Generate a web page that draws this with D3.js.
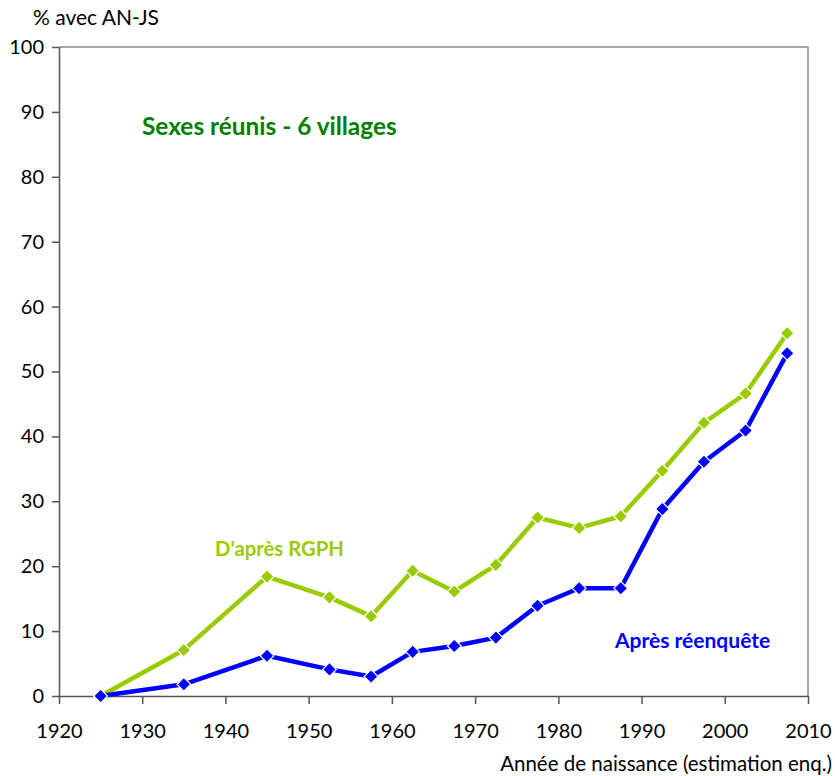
<!DOCTYPE html>
<html>
<head>
<meta charset="utf-8">
<script src="https://cdn.jsdelivr.net/npm/d3@7"></script>
<style>
  body { margin: 0; background: #fff; }
  svg { font-family: Lato, "Open Sans", sans-serif; }
</style>
</head>
<body>
<svg id="chart" width="835" height="776"></svg>
<script>
// birth cohorts (mid-points)
const years = [1925, 1935, 1945, 1952.5, 1957.5, 1962.5, 1967.5, 1972.5, 1977.5, 1982.5, 1987.5, 1992.5, 1997.5, 2002.5, 2007.5];
const rgph = [0, 7.1, 18.4, 15.2, 12.3, 19.3, 16.1, 20.2, 27.5, 25.9, 27.7, 34.7, 42.1, 46.6, 55.9];
const reenquete = [0, 1.8, 6.2, 4.1, 3.0, 6.8, 7.7, 9.0, 13.9, 16.6, 16.6, 28.8, 36.1, 40.9, 52.8];
const xTicks = [1920, 1930, 1940, 1950, 1960, 1970, 1980, 1990, 2000, 2010];
const yTicks = [0, 10, 20, 30, 40, 50, 60, 70, 80, 90, 100];

const svg = d3.select("#chart");
const plot = { left: 59, right: 808, top: 47, bottom: 696 };

let x = d3.scaleLinear().domain([1920, 2010]).range([plot.left, plot.right]);
let y = d3.scaleLinear().domain([0, 100]).range([plot.bottom, plot.top]);

// plot frame (top + right)
svg.append("path")
  .attr("d", `M${plot.left},${plot.top}H${plot.right}V${plot.bottom}`)
  .attr("fill", "none")
  .attr("stroke", "#8c8c8c")
  .attr("stroke-width", 1.5);

const yAxis = svg.append("g")
  .attr("transform", `translate(${plot.left},0)`)
  .call(d3.axisLeft(y).tickValues(yTicks).tickSize(7).tickPadding(8).tickSizeOuter(0));
const xAxis = svg.append("g")
  .attr("transform", `translate(0,${plot.bottom})`)
  .call(d3.axisBottom(x).tickValues(xTicks).tickFormat(d3.format("d")).tickSize(8).tickPadding(20).tickSizeOuter(0));

[yAxis, xAxis].forEach((g) => {
  g.select(".domain").attr("stroke", "#555").attr("stroke-width", 1.5);
  g.selectAll(".tick line").attr("stroke", "#555").attr("stroke-width", 1.5);
  g.selectAll(".tick text")
    .attr("font-family", "Lato, 'Open Sans', sans-serif")
    .attr("font-size", 20)
    .attr("fill", "#000");
});

// series
const series = [
  { name: "rgph", values: rgph, color: "#99cc00" },
  { name: "reenquete", values: reenquete, color: "#0000ff" }
];
const line = d3.line()
  .x((d) => x(d[0]))
  .y((d) => y(d[1]));
const marker = d3.symbol().type(d3.symbolSquare).size(95);

series.forEach((s) => {
  const pts = years.map((yr, i) => [yr, s.values[i]]);
  svg.append("path")
    .datum(pts)
    .attr("d", line)
    .attr("fill", "none")
    .attr("stroke", s.color)
    .attr("stroke-width", 4.5)
    .attr("stroke-linejoin", "round");
  svg.append("g").selectAll("path")
    .data(pts)
    .enter().append("path")
    .attr("d", marker)
    .attr("transform", (d) => `translate(${x(d[0])},${y(d[1])}) rotate(45)`)
    .attr("fill", s.color)
    .attr("stroke", "#fff")
    .attr("stroke-width", 1.2);
});

// texts
svg.append("text")
  .attr("x", 33).attr("y", 25)
  .attr("font-size", 21)
  .text("% avec AN-JS");
svg.append("text")
  .attr("x", 832).attr("y", 771)
  .attr("text-anchor", "end")
  .attr("font-size", 20.5)
  .text("Année de naissance (estimation enq.)");
svg.append("text")
  .attr("x", 142).attr("y", 135)
  .attr("font-size", 24.4).attr("font-weight", "bold")
  .attr("fill", "#008000")
  .text("Sexes réunis - 6 villages");
svg.append("text")
  .attr("x", 215).attr("y", 556)
  .attr("font-size", 20.3).attr("font-weight", "bold")
  .attr("fill", "#99cc00")
  .text("D'après RGPH");
svg.append("text")
  .attr("x", 615).attr("y", 648)
  .attr("font-size", 21).attr("font-weight", "bold")
  .attr("fill", "#0000ff")
  .text("Après réenquête");
</script>
</body>
</html>
